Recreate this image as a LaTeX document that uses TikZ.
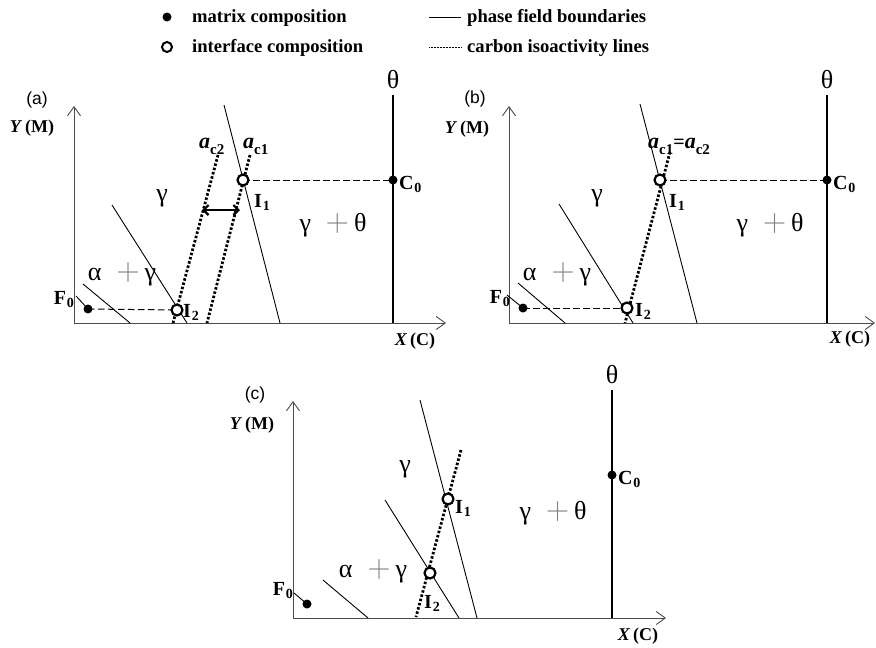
\documentclass[tikz,border=0pt]{standalone}
\usepackage{fontspec}
\setmainfont{Liberation Serif}
\newfontfamily\lsans{Liberation Sans}
\newfontfamily\lmr{Latin Modern Roman}
\usetikzlibrary{arrows.meta}
\tikzset{
 axis/.style={draw=black!70, line width=0.9pt, -{Straight Barb[length=9pt,width=13pt,line width=0.9pt]}},
 bound/.style={draw=black, line width=0.9pt},
 thetaline/.style={draw=black, line width=1.2pt},
 isoact/.style={draw=black, line width=2.8pt, dash pattern=on 2.5pt off 1.9pt},
 tieline/.style={draw=black, line width=1pt, dash pattern=on 6.5pt off 3.5pt},
 mdot/.style={circle, fill=black, minimum size=9pt, inner sep=0pt},
 idot/.style={circle, draw=black, line width=2.2pt, minimum size=11pt, inner sep=0pt, fill=white},
 lbl/.style={font=\fontsize{18}{20}\selectfont\bfseries, inner sep=0pt},
 plab/.style={font=\fontsize{20}{22}\selectfont\bfseries, inner sep=0pt},
 grk/.style={font=\fontsize{26}{28}\selectfont, inner sep=0pt},
 plbl/.style={font=\lsans\fontsize{17.5}{19}\selectfont, inner sep=0pt},
 leg/.style={font=\fontsize{18.6}{20}\selectfont\bfseries, anchor=west, inner sep=0pt},
 dbl/.style={line width=2.2pt, {Straight Barb[length=5pt,width=10pt]}-{Straight Barb[length=5pt,width=10pt]}},
}
\newcommand{\gplus}{\hspace{15pt}{\color{black!50}\lmr\fontsize{32}{32}\selectfont +}\hspace{5pt}}
\newcommand{\sbs}[1]{\kern0.8pt\raisebox{-3.5pt}{\fontsize{14}{14}\selectfont\bfseries #1}}
\newcommand{\asb}[1]{\raisebox{-6pt}{\fontsize{15}{15}\selectfont\bfseries #1}}
\newcommand{\acta}{{\fontsize{22}{24}\selectfont\bfseries\itshape a}}
\begin{document}
\begin{tikzpicture}[x=1pt,y=-1pt]
\useasboundingbox (0,0) rectangle (876,648);
% ---------------- legend
\node[mdot] (lgm) at (167,17) {};
\node[leg] (lgmt) at (192,18) {matrix composition};
\node[idot, minimum size=10pt, line width=2pt] (lgi) at (167,47) {};
\node[leg] (lgit) at (192,48) {interface composition};
\coordinate (lgb1) at (429,17); \coordinate (lgb2) at (461,17);
\draw[bound] (lgb1) -- (lgb2);
\node[leg] (lgbt) at (467,18) {phase field boundaries};
\coordinate (lgc1) at (429,47); \coordinate (lgc2) at (461,47);
\draw[black, line width=0.7pt, dash pattern=on 0.9pt off 0.6pt] (lgc1) -- (lgc2);
\node[leg] (lgct) at (467,48) {carbon isoactivity lines};

% ---------------- panel (a)
\coordinate (aO) at (74,323); \coordinate (aY) at (74,106); \coordinate (aX) at (446,323);
\draw[axis] (aO) -- (aY);
\draw[axis] (aO) -- (aX);
\node[plbl] (alab) at (37,100) {(a)};
\node[lbl] (aYl) at (32,128) {\textit{Y}\,(M)};
\node[lbl] (aXl) at (415,341) {\textit{X}\,(C)};
\coordinate (aT1) at (393,95); \coordinate (aT2) at (393,323);
\draw[thetaline] (aT1) -- (aT2);
\node[grk] (aTh) at (393,80) {θ};
\coordinate (aR1) at (224,105); \coordinate (aR2) at (280,323);
\draw[bound] (aR1) -- (aR2);
\coordinate (aL1) at (112,205); \coordinate (aL2) at (187,323);
\draw[bound] (aL1) -- (aL2);
\coordinate (aW1) at (83,284); \coordinate (aW2) at (130,323);
\draw[bound] (aW1) -- (aW2);
\coordinate (aA21) at (218,155); \coordinate (aA22) at (173,323);
\draw[isoact] (aA21) -- (aA22);
\coordinate (aA11) at (250,155); \coordinate (aA12) at (207,323);
\draw[isoact] (aA11) -- (aA12);
\coordinate (aD1) at (202,210); \coordinate (aD2) at (240,210);
\draw[dbl] (aD1) -- (aD2);
\coordinate (aF0c) at (88,309); \coordinate (aI2c) at (177,310);
\coordinate (aI1c) at (243,180); \coordinate (aC0c) at (393,180);
\draw[tieline] (aF0c) -- (aI2c);
\draw[tieline] (aI1c) -- (aC0c);
\coordinate (aFl) at (76,296);
\draw[bound] (aFl) -- (aF0c);
\node[mdot] (aF0) at (aF0c) {};
\node[mdot] (aC0) at (aC0c) {};
\node[idot] (aI1) at (aI1c) {};
\node[idot] (aI2) at (aI2c) {};
\node[plab, anchor=base east] (aF0l) at (74,304) {F\sbs{0}};
\node[plab, anchor=base west] (aC0l) at (399,189) {C\sbs{0}};
\node[plab, anchor=base west] (aI1l) at (254,207) {I\sbs{1}};
\node[plab, anchor=base west] (aI2l) at (183,317) {I\sbs{2}};
\node[lbl, anchor=base west] (aac2) at (199,148) {\acta\asb{c2}};
\node[lbl, anchor=base west] (aac1) at (243,148) {\acta\asb{c1}};
\node[grk] (agam) at (162,198) {γ};
\node[grk] (agt) at (333,225) {γ\gplus θ};
\node[grk] (aag) at (122,274) {α\gplus γ};

% ---------------- panel (b)
\coordinate (bO) at (509,323); \coordinate (bY) at (509,106); \coordinate (bX) at (875,323);
\draw[axis] (bO) -- (bY);
\draw[axis] (bO) -- (bX);
\node[plbl] (blab) at (475,99) {(b)};
\node[lbl] (bYl) at (467,129) {\textit{Y}\,(M)};
\node[lbl] (bXl) at (850,339) {\textit{X}\,(C)};
\coordinate (bT1) at (827,95); \coordinate (bT2) at (827,323);
\draw[thetaline] (bT1) -- (bT2);
\node[grk] (bTh) at (827,80) {θ};
\coordinate (bR1) at (640,104); \coordinate (bR2) at (697,323);
\draw[bound] (bR1) -- (bR2);
\coordinate (bL1) at (559,204); \coordinate (bL2) at (633,323);
\draw[bound] (bL1) -- (bL2);
\coordinate (bW1) at (518,283); \coordinate (bW2) at (565,323);
\draw[bound] (bW1) -- (bW2);
\coordinate (bA1) at (670,152); \coordinate (bA2) at (625,323);
\draw[isoact] (bA1) -- (bA2);
\coordinate (bF0c) at (523,308); \coordinate (bI2c) at (627,308);
\coordinate (bI1c) at (660,180); \coordinate (bC0c) at (827,180);
\draw[tieline] (bF0c) -- (bI2c);
\draw[tieline] (bI1c) -- (bC0c);
\coordinate (bFl) at (507,295);
\draw[bound] (bFl) -- (bF0c);
\node[mdot] (bF0) at (bF0c) {};
\node[mdot] (bC0) at (bC0c) {};
\node[idot] (bI1) at (bI1c) {};
\node[idot] (bI2) at (bI2c) {};
\node[plab, anchor=base east] (bF0l) at (510,303) {F\sbs{0}};
\node[plab, anchor=base west] (bC0l) at (833,189) {C\sbs{0}};
\node[plab, anchor=base west] (bI1l) at (669,207) {I\sbs{1}};
\node[plab, anchor=base west] (bI2l) at (635,316) {I\sbs{2}};
\node[lbl, anchor=base west] (bac) at (648,148) {\acta\asb{c1}{\fontsize{20}{22}\selectfont=}\acta\asb{c2}};
\node[grk] (bgam) at (597,198) {γ};
\node[grk] (bgt) at (770,225) {γ\gplus θ};
\node[grk] (bag) at (557,274) {α\gplus γ};

% ---------------- panel (c)
\coordinate (cO) at (293,618); \coordinate (cY) at (293,401); \coordinate (cX) at (666,618);
\draw[axis] (cO) -- (cY);
\draw[axis] (cO) -- (cX);
\node[plbl] (clab) at (255,395) {(c)};
\node[lbl] (cYl) at (252,425) {\textit{Y}\,(M)};
\node[lbl] (cXl) at (638,636) {\textit{X}\,(C)};
\coordinate (cT1) at (612,390); \coordinate (cT2) at (612,618);
\draw[thetaline] (cT1) -- (cT2);
\node[grk] (cTh) at (612,375) {θ};
\coordinate (cR1) at (420,400); \coordinate (cR2) at (477,618);
\draw[bound] (cR1) -- (cR2);
\coordinate (cL1) at (385,500); \coordinate (cL2) at (459,618);
\draw[bound] (cL1) -- (cL2);
\coordinate (cW1) at (323,580); \coordinate (cW2) at (368,618);
\draw[bound] (cW1) -- (cW2);
\coordinate (cA1) at (461,450); \coordinate (cA2) at (416,617);
\draw[isoact] (cA1) -- (cA2);
\coordinate (cF0c) at (307,604); \coordinate (cC0c) at (612,475);
\coordinate (cI1c) at (448,499); \coordinate (cI2c) at (430,573);
\coordinate (cFl) at (294,593);
\draw[bound] (cFl) -- (cF0c);
\node[mdot] (cF0) at (cF0c) {};
\node[mdot] (cC0) at (cC0c) {};
\node[idot] (cI1) at (cI1c) {};
\node[idot] (cI2) at (cI2c) {};
\node[plab, anchor=base east] (cF0l) at (293,595) {F\sbs{0}};
\node[plab, anchor=base west] (cC0l) at (618,484) {C\sbs{0}};
\node[plab, anchor=base west] (cI1l) at (455,513) {I\sbs{1}};
\node[plab, anchor=base west] (cI2l) at (424,608) {I\sbs{2}};
\node[grk] (cgam) at (405,469) {γ};
\node[grk] (cgt) at (553,513) {γ\gplus θ};
\node[grk] (cag) at (373,571) {α\gplus γ};
\end{tikzpicture}
\end{document}
